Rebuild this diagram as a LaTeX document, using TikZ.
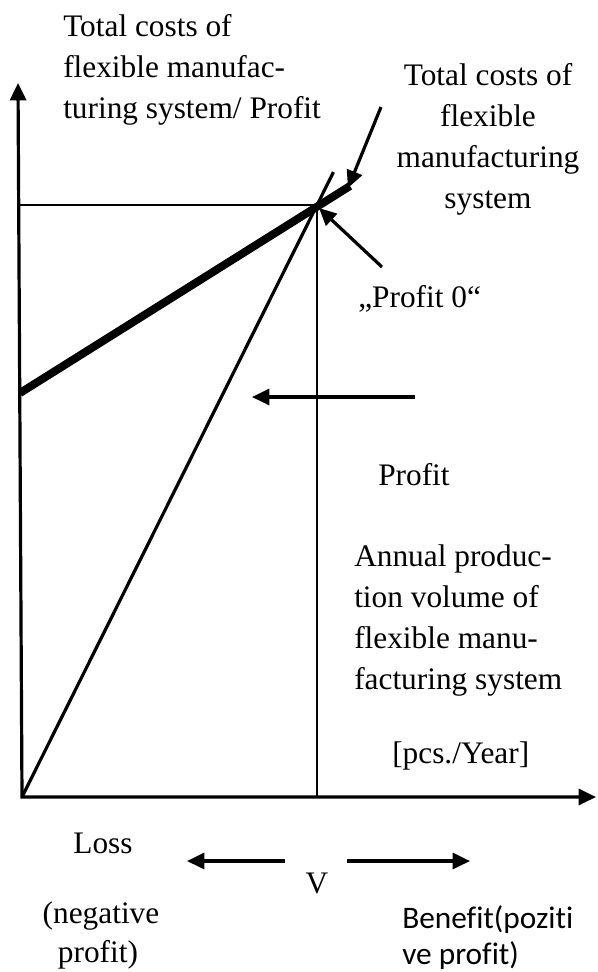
\documentclass[tikz,border=0pt]{standalone}
\usepackage{fontspec}
\setmainfont[Ligatures=NoCommon]{Liberation Serif}
\newfontfamily\calibfont[Ligatures=NoCommon]{Carlito}
\usetikzlibrary{arrows.meta}
\begin{document}
\begin{tikzpicture}[x=0.75pt,y=-0.75pt,
  axis/.style={line width=2.4pt,{Triangle[length=13pt,width=12pt]}-{Triangle[length=13pt,width=12pt]}},
  ptr/.style={line width=2.4pt,-{Triangle[length=13pt,width=12pt]}},
  guide/.style={line width=1pt},
  costline/.style={line width=6pt},
  revline/.style={line width=2.4pt},
  lbl/.style={inner sep=0pt,font=\fontsize{23.5pt}{30.75pt}\selectfont},
  sanslbl/.style={inner sep=0pt,font=\calibfont\fontsize{23.5pt}{29pt}\selectfont},
]
\useasboundingbox (0,0) rectangle (597,972);
% key points
\coordinate (O) at (22,797);
\coordinate (ytop) at (18,83);
\coordinate (xend) at (596,797);
\coordinate (P) at (317,205);
\coordinate (hstart) at (19,205);
\coordinate (vfoot) at (317,797);
\coordinate (c0) at (20,393);
\coordinate (c1) at (350,186);
\coordinate (r1) at (333.5,172);
\coordinate (a1s) at (381,107);
\coordinate (a1e) at (348,188);
\coordinate (a2s) at (382,267);
\coordinate (a2e) at (319,208);
\coordinate (a3s) at (415,397);
\coordinate (a3e) at (252,397);
\coordinate (a4s) at (285,861);
\coordinate (a4e) at (187,861);
\coordinate (a5s) at (347,861);
\coordinate (a5e) at (470,861);
% axes
\draw[axis] (ytop) -- (O) -- (xend);
% guides
\draw[guide] (hstart) -- (P) -- (vfoot);
% lines
\draw[costline] (c0) -- (c1);
\draw[revline] (O) -- (r1);
% arrows
\draw[ptr] (a1s) -- (a1e);
\draw[ptr] (a2s) -- (a2e);
\draw[ptr] (a3s) -- (a3e);
\draw[ptr] (a4s) -- (a4e);
\draw[ptr] (a5s) -- (a5e);
% labels
\node[lbl,anchor=base west] (ylab) at (63,36) {\begin{tabular}[t]{@{}l@{}}Total costs of\\flexible manufac-\\turing system/ Profit\end{tabular}};
\node[lbl,anchor=base] (costlab) at (488,85) {\begin{tabular}[t]{@{}c@{}}Total costs of\\flexible\\manufacturing\\system\end{tabular}};
\node[lbl,anchor=base west] (p0lab) at (358,307) {„Profit 0“};
\node[lbl,anchor=base west] (proflab) at (378,485) {Profit};
\node[lbl,anchor=base west] (xlab) at (354,566) {\begin{tabular}[t]{@{}l@{}}Annual produc-\\tion volume of\\flexible manu-\\facturing system\end{tabular}};
\node[lbl,anchor=base west] (unitlab) at (392,763) {[pcs./Year]};
\node[lbl,anchor=base] (losslab) at (103,853) {Loss};
\node[lbl,anchor=base] (neglab) at (101,923) {(negative};
\node[lbl,anchor=base] (neglabb) at (98,962) {profit)};
\node[lbl,anchor=base] (vlab) at (317,893) {V};
\node[sanslbl,anchor=base west] (benlab) at (402,928) {Benefit(poziti};
\node[sanslbl,anchor=base west] (benlabb) at (402,964) {ve profit)};
\end{tikzpicture}
\end{document}
